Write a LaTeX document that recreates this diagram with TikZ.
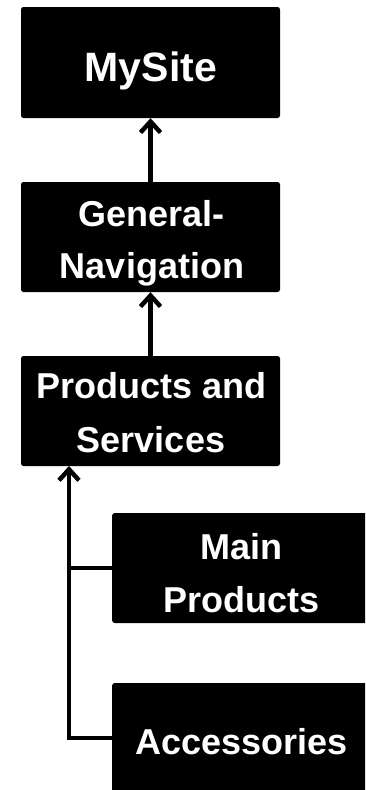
\documentclass[tikz,border=0pt]{standalone}
\usepackage{fontspec}
\setmainfont{Liberation Sans}
\usetikzlibrary{arrows.meta}
\begin{document}
\begin{tikzpicture}[x=1pt,y=-1pt,
  boxst/.style={fill=black, rounded corners=2.5pt, inner sep=0pt, minimum width=259pt, minimum height=110pt},
  lbl/.style={text=white, font=\fontsize{36}{36}\selectfont\bfseries, anchor=base, inner sep=0pt},
  conn/.style={line width=4.5pt, -{Straight Barb[length=11pt,width=20pt]}},
  branch/.style={line width=4.5pt}]
\useasboundingbox (0,0) rectangle (365,790);
\clip (0,0) rectangle (365,790);
\fill[white] (0,0) rectangle (365,790);
% boxes
\node[boxst, minimum height=111pt] (mysite) at (150.5,62.5) {};
\node[boxst] (gen) at (150.5,237) {};
\node[boxst] (prod) at (150.5,411) {};
\node[boxst] (main) at (241.7,568) {};
\node[boxst] (acc) at (241.7,738) {};
% labels
\node[lbl, font=\fontsize{41}{41}\selectfont\bfseries] (tmysite) at (150.8,81.7) {MySite};
\node[lbl] (tgen1) at (151.5,226) {General-};
\node[lbl] (tgen2) at (152,278) {Navigation};
\node[lbl] (tprod1) at (151.5,398) {Products and};
\node[lbl] (tprod2) at (151,452) {Services};
\node[lbl] (tmain1) at (241.7,559) {Main};
\node[lbl] (tmain2) at (241.7,612) {Products};
\node[lbl] (tacc) at (241.7,754) {Accessories};
% connectors
\draw[conn] (gen.north) -- (mysite.south);
\draw[conn] (prod.north) -- (gen.south);
\coordinate (tr) at (69,466);
\draw[conn] (acc.west) -| (tr);
\draw[branch] (main.west) -- (main.west -| tr);
\end{tikzpicture}
\end{document}
